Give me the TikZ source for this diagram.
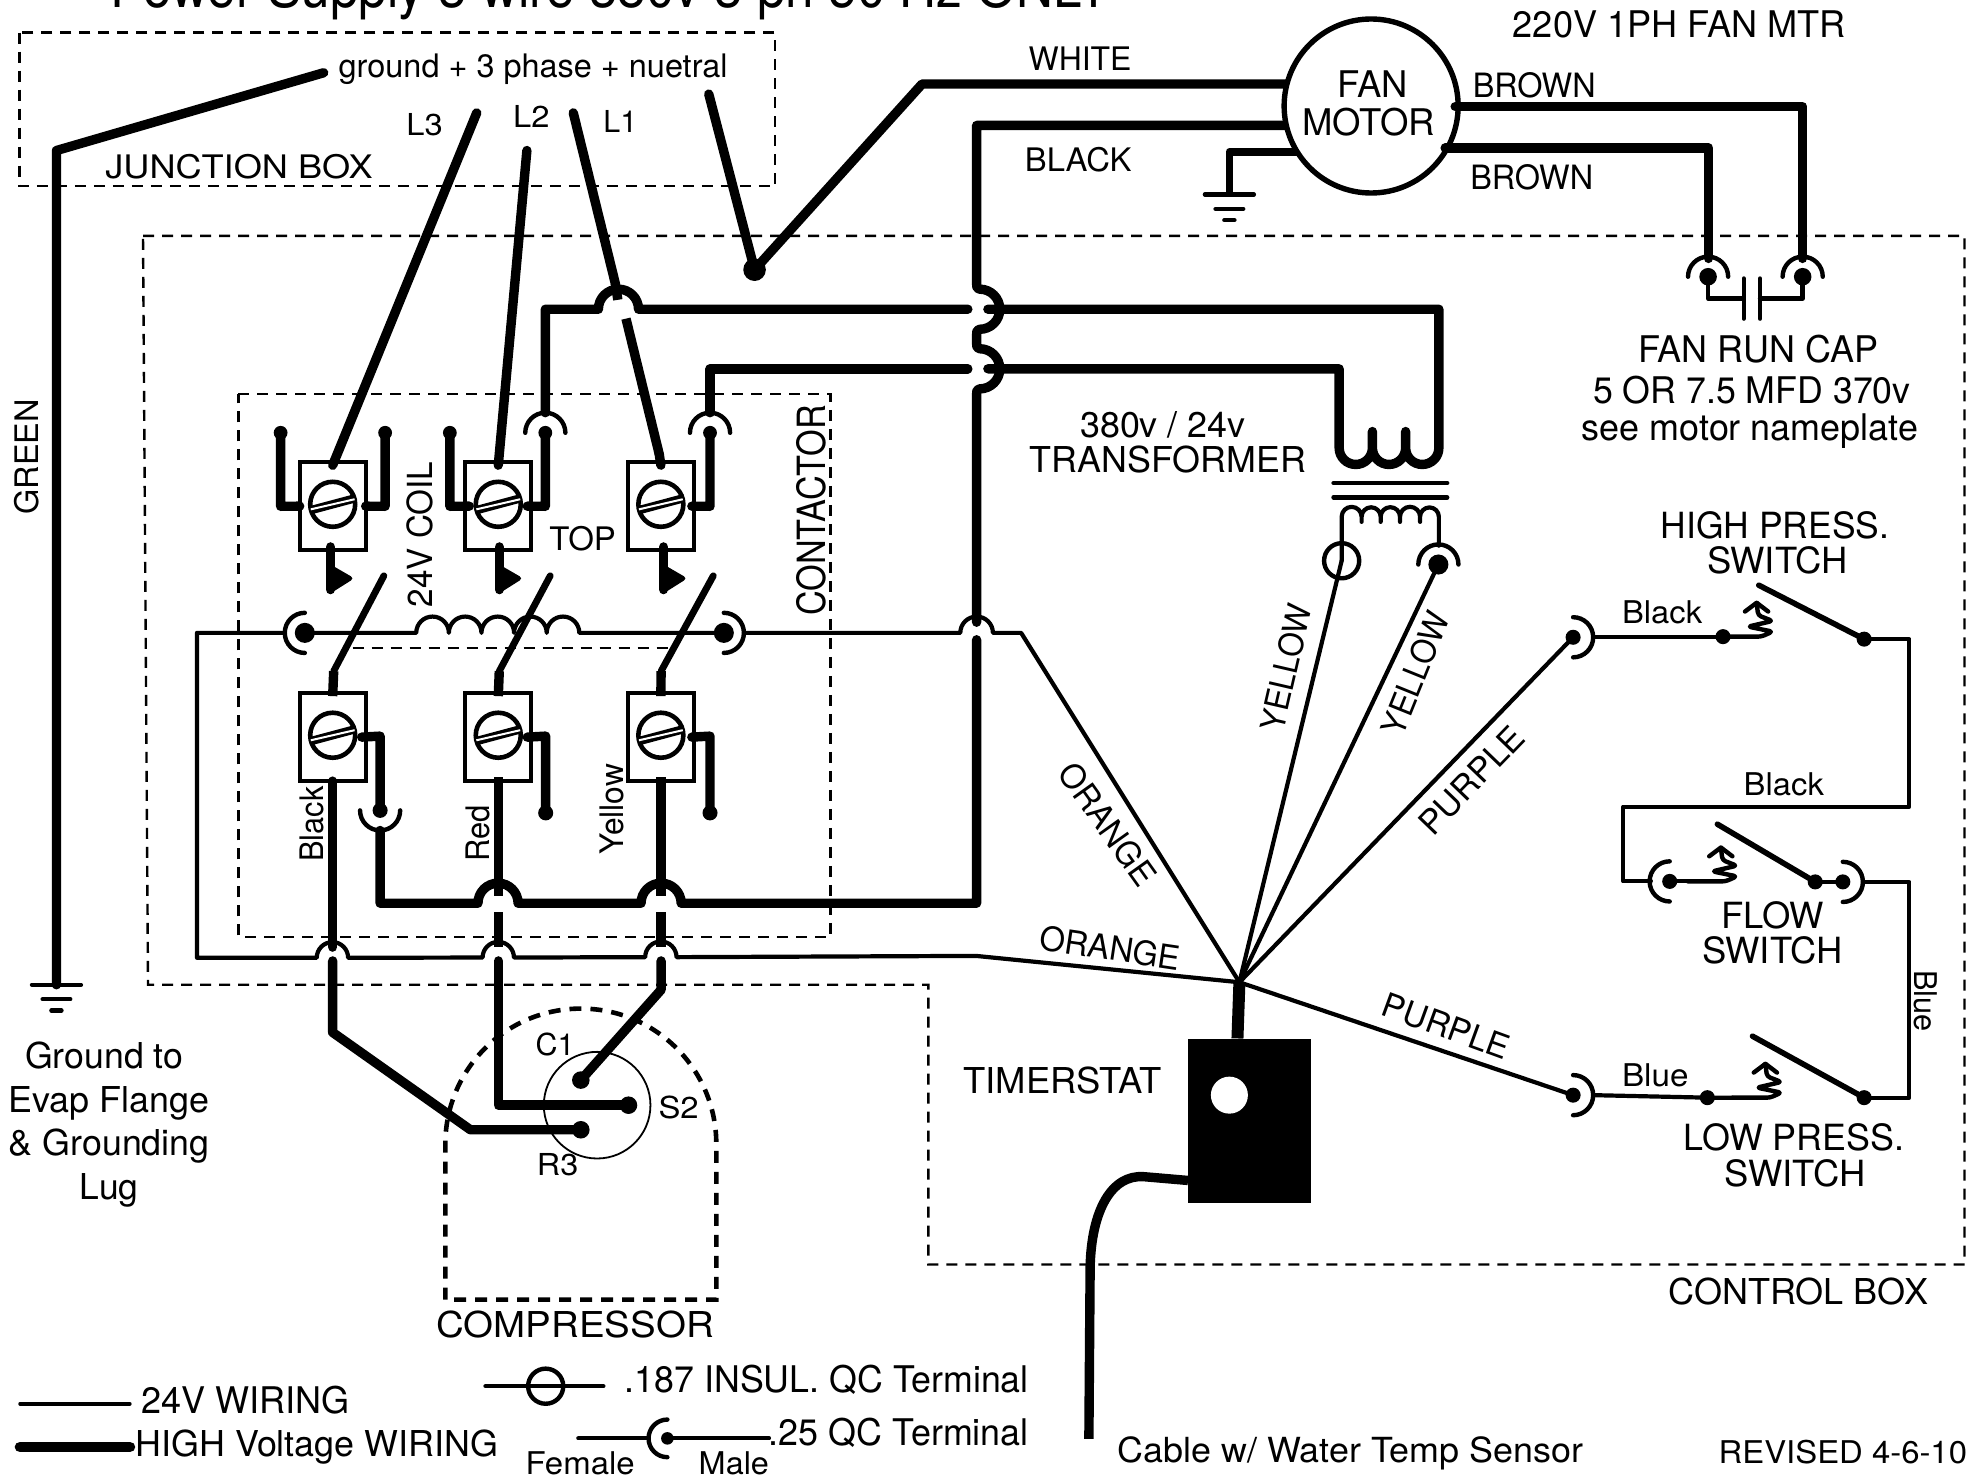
\documentclass[tikz,border=0pt]{standalone}
\usepackage{graphicx}
\usepackage{fontspec}
\setmainfont{TeX Gyre Heros}
\newlength\uu \setlength\uu{0.6272pt}
% text of exact width #1 (in picture units), size #2, slightly raised height
\newcommand\tw[3]{\resizebox{#1\uu}{1.08\height}{\fontsize{#2}{#2}\selectfont #3}}
\tikzset{
  lab/.style={inner sep=0pt,outer sep=0pt,anchor=base west},
  labc/.style={inner sep=0pt,outer sep=0pt,anchor=base},
  lbox/.style={inner sep=0pt,outer sep=0pt,anchor=center},
  thin24/.style={line width=2.1pt,line join=round,line cap=round},
  hv/.style={line width=4.7pt,line join=round,line cap=round},
  blade/.style={line width=3.4pt,line cap=round},
  dashbox/.style={line width=1.2pt,dash pattern=on 5.5pt off 4pt},
  dashcomp/.style={line width=2.3pt,dash pattern=on 6pt off 4.5pt},
  tbox/.style={draw,line width=2.1pt,minimum width=33pt,minimum height=44pt,inner sep=0pt,outer sep=0pt,fill=white},
  screw/.style={draw,circle,line width=2.3pt,minimum size=22.5pt,inner sep=0pt,outer sep=0pt},
  sym/.style={line width=2.2pt,line cap=round,line join=round},
}
% terminal block with screw
\newcommand\tblock[3]{%
  \node[tbox] (#1) at (#2,#3) {};
  \node[screw] (#1s) at (#2,#3-1.5) {};
  \draw[line width=4.2pt] (#1s.195) -- (#1s.15);
  \draw[line width=1pt,white] (#1s.193) -- (#1s.13);
}
% female terminal: dot and half circle; #4 start angle of the half circle
\newcommand\fterm[5]{%
  \coordinate (#1) at (#2,#3);
  \fill (#1) circle[radius=#5];
  \draw[sym] (#1) ++(#4:16) arc[start angle=#4,delta angle=180,radius=16];
}
\newcommand\dotat[4]{\coordinate (#1) at (#2,#3); \fill (#1) circle[radius=#4];}
% pressure element at base point
\newcommand\spring[2]{%
  \begin{scope}[shift={(#1,#2)}]
    \draw[sym,rounded corners=1.6pt] (-30,0) -- (0,0) -- (9,-4) -- (-10.5,-8) -- (9,-12.5) -- (-2.5,-17) -- (-3.7,-27);
    \draw[sym] (-13,-20) -- (-3.7,-27) -- (5.5,-20);
  \end{scope}
}
\newcommand\groundsym[2]{%
  \begin{scope}[shift={(#1,#2)}]
    \draw[sym] (-19.5,0) -- (19.5,0);
    \draw[sym] (-11,11.5) -- (11,11.5);
    \draw[sym] (-4,20.5) -- (4,20.5);
  \end{scope}
}
\begin{document}
\begin{tikzpicture}[x=0.6272pt,y=-0.6272pt]
\useasboundingbox (0,0) rectangle (1568,1177.4);
\clip (0,0) rectangle (1568,1177.4);
\fill[white] (0,0) rectangle (1568,1177.4);

% dashed enclosures
\draw[dashbox] (15.5,26) rectangle (618,148.5);
\draw[dashbox] (114,188) -- (1566,188) -- (1566,1008) -- (740,1008) -- (740,785) -- (118,785) -- cycle;
\draw[dashbox] (190,314) -- (662,314) -- (662,747) -- (190,747) -- cycle;
\draw[dashbox] (281,516.5) -- (533,516.5);

% hub where the timerstat leads meet
\coordinate (hub) at (988,783);

% terminal blocks
\tblock{ta}{265.2}{403.5}
\tblock{tb}{397.2}{403.5}
\tblock{tc}{526.8}{403.5}
\tblock{ba}{265.2}{587.6}
\tblock{bb}{397.2}{587.6}
\tblock{bc}{526.8}{587.6}

% fork stubs, top row
\dotat{f1}{223.7}{345}{5.5}
\dotat{f2}{307}{345}{5.5}
\dotat{f3}{358.6}{345}{5.5}
\fterm{f4}{434.7}{345}{180}{5.5}
\fterm{f5}{566}{345}{180}{5.5}
\draw[hv] (f1) -- (223.7,403.6) -- (ta.west);
\draw[hv] (f2) -- (307,403.6) -- (ta.east);
\draw[hv] (f3) -- (358.6,403.6) -- ([xshift=2pt]tb.west);
\draw[hv] (f4) -- (434.7,403.6) -- ([xshift=-2pt]tb.east);
\draw[hv] (f5) -- (566,403.6) -- ([xshift=-1pt]tc.east);

% power feed
\coordinate (gnd0) at (258,58);
\coordinate (l3) at (380,90);
\coordinate (l2) at (420,120);
\coordinate (l1) at (457,90);
\coordinate (n0) at (565,75);
\dotat{tj}{601.5}{215}{9}
\draw[hv] (gnd0) -- (45,120) -- (45,785);
\groundsym{45}{785}
\draw[hv] (l3) -- ([yshift=-1.5pt]ta.north);
\draw[hv] (l2) -- ([yshift=-1.5pt]tb.north);
\draw[hv] (l1) -- (490.5,226);
\draw[hv,line cap=butt] (490.5,226) -- (492.5,239);
\draw[hv,line cap=butt] (499,254) -- (525.5,362);
\draw[hv] (525.5,362) -- ([yshift=-1.5pt]tc.north);
\draw[hv] (n0) -- (tj) -- (735,67) -- (1025,67);

% contact pads below top row
\foreach \x in {263.5,398,529}{
  \draw[hv] (\x,436) -- (\x,470);
  \fill[rounded corners=2pt] (\x,450) -- (\x+19,461) -- (\x,473) -- cycle;
}
% moving contact blades
\draw[blade] (306,459) -- (266,535);
\draw[blade] (438.6,459) -- (398,535);
\draw[blade] (568.6,459) -- (527,535);
\draw[hv,line cap=butt] (266,535) -- ([yshift=-1.5pt]ba.north);
\draw[hv,line cap=butt] (398,535) -- ([yshift=-1.5pt]bb.north);
\draw[hv,line cap=butt] (527,535) -- ([yshift=-1.5pt]bc.north);

% lower stubs
\fterm{g1}{303}{646}{0}{6}
\dotat{g2}{435}{648}{6}
\dotat{g3}{566}{648}{6}
\draw[hv] ([xshift=-2pt]ba.east) -- (303,586.8) -- (g1);
\draw[hv] ([xshift=-2pt]bb.east) -- (435,586.8) -- (g2);
\draw[hv] ([xshift=-1pt]bc.east) -- (566,586.8) -- (g3);

% high-voltage rail back to the vertical
\draw[hv] (303,662) -- (303,720) -- (381,720) arc[start angle=180,end angle=360,radius=16]
   -- (511,720) arc[start angle=180,end angle=360,radius=16] -- (778.5,720) -- (778.5,510);
\draw[hv] (778.5,496) -- (778.5,315)
   .. controls (778.5,311) and (779,310) .. (781,310) arc[start angle=90,end angle=-90,radius=16]
   .. controls (779,278) and (778.5,277) .. (778.5,273)
   -- (778.5,267.5) .. controls (778.5,263.5) and (779,262.5) .. (781,262.5) arc[start angle=90,end angle=-90,radius=16]
   .. controls (779,230.5) and (778.5,229.5) .. (778.5,225.5)
   -- (778.5,100) -- (1025,100);

% compressor circuit
\draw[hv] (ba.south) -- (265.2,755);
\draw[hv,line cap=butt] ([yshift=2pt]bb.south) -- (397.2,714);
\draw[hv,line cap=butt] ([yshift=2pt]bc.south) -- (526.8,714);
\draw[hv,line cap=butt] (397.2,727) -- (397.2,755);
\draw[hv,line cap=butt] (526.8,727) -- (526.8,755);
\dotat{c1}{463}{861}{7}
\dotat{s2}{501}{881}{7}
\dotat{r3}{463}{900.6}{7}
\draw[hv] (265.2,766) -- (265.2,823) -- (375,900.6) -- (r3);
\draw[hv] (397.2,766) -- (397.2,881) -- (s2);
\draw[hv] (527,766) -- (527,789) -- (c1);
\draw[line width=0.9pt] (476,881) circle[radius=42.5];
\draw[dashcomp] (355,1036) -- (355,912) arc[start angle=180,end angle=360,radius=108] -- (571,1036) -- cycle;

% thick rails to the transformer
\draw[hv] (434.7,329) -- (434.7,246.5) -- (477,246.5) arc[start angle=180,end angle=360,radius=16] -- (771.5,246.5);
\draw[hv] (566,329) -- (566,294) -- (771.5,294);
\draw[hv] (787.5,246.5) -- (1147,246.5) -- (1147,357)
   arc[start angle=0,end angle=180,radius=13.25] -- (1120.5,344) -- (1120.5,357)
   arc[start angle=0,end angle=180,radius=13.25] -- (1094,344) -- (1094,357)
   arc[start angle=0,end angle=180,radius=13.25] -- (1067.5,294) -- (787.5,294);
\draw[sym] (1063,385) -- (1153.6,385);
\draw[sym] (1063,396.5) -- (1153.6,396.5);
% secondary winding
\draw[thin24] (1069.5,447) -- (1069.5,412)
   arc[start angle=180,end angle=360,radius=7.95] -- ++(0,4) -- ++(0,-4)
   arc[start angle=180,end angle=360,radius=7.6] -- ++(0,4) -- ++(0,-4)
   arc[start angle=180,end angle=360,radius=7.7] -- ++(0,4) -- ++(0,-4)
   arc[start angle=180,end angle=360,radius=8] -- ++(0,4) -- ++(0,-4)
   arc[start angle=180,end angle=360,radius=7.5] -- (1147,435);
\coordinate (ins) at (1069.5,447);
\draw[sym] (ins) circle[radius=14];
\fterm{sec2}{1146.6}{450}{180}{8}

% fan motor
\node[draw,circle,line width=2.7pt,minimum size=87pt,inner sep=0pt,fill=white] (fan) at (1093,84.5) {};
\node[lbox] (tfan) at (1094,67) {\tw{56}{17}{FAN}};
\node[lbox] (tmotor) at (1091,97) {\tw{106}{17}{MOTOR}};
\draw[hv] (1160,85) -- (1437,85) -- (1437,206);
\draw[hv] (1152,118) -- (1362,118) -- (1362,206);
\draw[line width=3.8pt,line join=round] (1034,121) -- (980,121) -- (980,155);
\groundsym{980}{155}
\fterm{cap1}{1361.6}{220.6}{180}{7}
\fterm{cap2}{1437}{220.6}{180}{7}
\draw[sym] (cap1) -- (1361.6,238) -- (1390,238);
\draw[sym] (cap2) -- (1437,238) -- (1403,238);
\draw[sym] (1390,222) -- (1390,254);
\draw[sym] (1403,222) -- (1403,254);

% 24 V coil line
\fterm{coilL}{243}{504.5}{90}{8}
\fterm{coilR}{577}{504.5}{270}{8}
\draw[thin24] (coilL) -- (331.8,504.5)
   arc[start angle=180,end angle=360,radius=13] arc[start angle=180,end angle=360,radius=13]
   arc[start angle=180,end angle=360,radius=13] arc[start angle=180,end angle=360,radius=13]
   arc[start angle=180,end angle=360,radius=13]
   -- (coilR);
\draw[thin24] (227,504.5) -- (157,504.5) -- (157,763.5) -- (252.5,763.5)
   arc[start angle=180,end angle=360,radius=12.5] -- (384.7,763.3)
   arc[start angle=180,end angle=360,radius=12.5] -- (514.3,763)
   arc[start angle=180,end angle=360,radius=12.5] -- (778,762) -- (hub);
\draw[thin24] (593,504.5) -- (765.5,504.5) arc[start angle=180,end angle=360,radius=13] -- (814,504.5) -- (hub);

% yellow and purple leads
\draw[thin24] (ins) -- (hub);
\draw[thin24] (sec2) -- (hub);
\fterm{pu}{1254}{508}{270}{6}
\fterm{pl}{1254}{873}{270}{6}
\draw[thin24] (hub) -- (pu);
\draw[thin24] (hub) -- (pl);

% timerstat
\node[fill=black,inner sep=0pt,minimum width=61.5pt,minimum height=82pt] (timer) at (996,893.5) {};
\node[fill=white,circle,inner sep=0pt,minimum size=18.5pt] (timerh) at (980,873) {};
\draw[line width=6pt] (hub) -- ([xshift=-6pt]timer.north);
\coordinate (cab) at (868,1147);
\draw[hv,line cap=butt] (947,941) -- (912,938) .. controls (886,936) and (870,965) .. (869,1010) -- (cab);

% switches
\dotat{hp1}{1373.5}{507.5}{6}
\dotat{hp2}{1486}{509.5}{6}
\spring{1404}{507.5}
\draw[thin24] (1270,507.5) -- (hp1);
\draw[blade,line width=2.8pt] (1402,466.5) -- (hp2);
\draw[thin24] (hp2) -- (1522,509.5) -- (1522,643) -- (1294,643) -- (1294,702.6) -- (1316,702.6);
\fterm{fl}{1331}{702.6}{90}{6}
\dotat{fl2}{1447}{703}{6}
\fterm{fl3}{1469}{703}{270}{6}
\spring{1375.5}{702.6}
\draw[thin24] (fl) -- (1346,702.6);
\draw[blade,line width=2.8pt] (1369,657) -- (fl2);
\draw[thin24] (fl2) -- (fl3);
\draw[thin24] (1485,703) -- (1522,703) -- (1522,875) -- (1486,875);
\dotat{lp1}{1361}{875}{6}
\dotat{lp2}{1486}{875}{6}
\spring{1411}{875}
\draw[thin24] (1270,873) -- (lp1) -- (1381,875);
\draw[blade,line width=2.8pt] (1397,826) -- (lp2);

% legend
\coordinate (lg1a) at (16,1119); \coordinate (lg1b) at (103.5,1119);
\coordinate (lg2a) at (16,1153.5); \coordinate (lg2b) at (103.5,1153.5);
\draw[thin24,line width=1.8pt] (lg1a) -- (lg1b);
\draw[line width=5.4pt,line cap=round] (lg2a) -- (lg2b);
\coordinate (lg3) at (435,1105);
\draw[thin24] (387,1105) -- (481,1105);
\draw[sym] (lg3) circle[radius=14];
\dotat{lg4}{532}{1146.6}{5}
\draw[thin24] (461,1146.6) -- (517,1146.6);
\draw[sym] (lg4) ++(90:15) arc[start angle=90,delta angle=180,radius=15];
\draw[thin24] (lg4) -- (613,1146.6);

% texts
\node[lab] (title) at (88,5.6) {\tw{797}{26.5}{Power Supply 3 wire 380v 3 ph 50 Hz ONLY}};
\node[lab] (t1) at (270,62) {\tw{310}{15}{ground + 3 phase + nuetral}};
\node[lab] (t2) at (324,108) {\tw{29}{14}{L3}};
\node[lab] (t3) at (409,102) {\tw{29}{14}{L2}};
\node[lab] (t4) at (481,106) {\tw{27}{14}{L1}};
\node[lab] (t5) at (84,142) {\tw{213}{15}{JUNCTION BOX}};
\node[lab] (t6) at (820,56) {\tw{82}{15}{WHITE}};
\node[lab] (t7) at (817,136.5) {\tw{85}{15}{BLACK}};
\node[lab] (t8) at (1206,30) {\tw{265}{17}{220V 1PH FAN MTR}};
\node[lab] (t9) at (1174,78) {\tw{98}{15.5}{BROWN}};
\node[lab] (t10) at (1172,151) {\tw{98}{15.5}{BROWN}};
\node[lab] (t11) at (1306,289) {\tw{191}{17}{FAN RUN CAP}};
\node[lab] (t12) at (1270,322) {\tw{253}{17}{5 OR 7.5 MFD 370v}};
\node[lab] (t13) at (1261,351) {\tw{268}{17}{see motor nameplate}};
\node[lab] (t14) at (861,349) {\tw{132}{16.5}{380v / 24v}};
\node[lab] (t15) at (821,377) {\tw{220}{16.5}{TRANSFORMER}};
\node[lab,rotate=90] (t16) at (31,410) {\tw{92}{15}{GREEN}};
\node[lab,rotate=90] (t17) at (345,484) {\tw{116}{16}{24V COIL}};
\node[lab] (t18) at (438,439) {\tw{53}{15}{TOP}};
\node[lab,rotate=90] (t19) at (658,491) {\tw{168}{18}{CONTACTOR}};
\node[lab,rotate=90] (t20) at (258,687) {\tw{60}{15}{Black}};
\node[lab,rotate=90] (t21) at (390,687) {\tw{45}{15}{Red}};
\node[lab,rotate=90] (t22) at (497,681) {\tw{72}{15}{Yellow}};
\node[lbox,rotate=-54.5] (t23) at (883,657) {\tw{113}{15.5}{ORANGE}};
\node[lbox,rotate=-8.5] (t24) at (885,755.5) {\tw{113}{15.5}{ORANGE}};
\node[lbox,rotate=77] (t25) at (1025,532) {\tw{103}{15.5}{YELLOW}};
\node[lbox,rotate=68] (t26) at (1128,537) {\tw{103}{15.5}{YELLOW}};
\node[lbox,rotate=46] (t27) at (1173,622) {\tw{108}{15.5}{PURPLE}};
\node[lbox,rotate=-20] (t28) at (1153,818) {\tw{106}{15.5}{PURPLE}};
\node[lbox,rotate=-90] (t29) at (1535,798) {\tw{49}{14.5}{Blue}};
\node[lab] (t30) at (1293,497) {\tw{64}{14.5}{Black}};
\node[lab] (t31) at (1390,634) {\tw{64}{14.5}{Black}};
\node[lab] (t32) at (1293,866) {\tw{53}{14.5}{Blue}};
\node[lab] (t33) at (1324,429) {\tw{182}{16.7}{HIGH PRESS.}};
\node[lab] (t34) at (1361,457) {\tw{112}{16.7}{SWITCH}};
\node[lab] (t35) at (1372,740) {\tw{82}{16.7}{FLOW}};
\node[lab] (t36) at (1357,768) {\tw{112}{16.7}{SWITCH}};
\node[lab] (t37) at (1342,917) {\tw{176}{16.7}{LOW PRESS.}};
\node[lab] (t38) at (1375,946) {\tw{112}{16.7}{SWITCH}};
\node[lab] (t39) at (768,872) {\tw{158}{16.5}{TIMERSTAT}};
\node[lab] (t40) at (1330,1040) {\tw{207}{16.5}{CONTROL BOX}};
\node[lab] (t41) at (427,841) {\tw{31}{14}{C1}};
\node[lab] (t42) at (525,892) {\tw{32}{14}{S2}};
\node[lab] (t43) at (428,937) {\tw{33}{14}{R3}};
\node[lab] (t44) at (348,1066) {\tw{221}{16.5}{COMPRESSOR}};
\node[labc] (t45) at (83,852) {\tw{126}{16.5}{Ground to}};
\node[labc] (t46) at (87,887) {\tw{160}{16.5}{Evap Flange}};
\node[labc] (t47) at (87,921) {\tw{160}{16.5}{\& Grounding}};
\node[labc] (t48) at (87,956) {\tw{47}{16.5}{Lug}};
\node[lab] (t49) at (113,1127) {\tw{166}{17}{24V WIRING}};
\node[lab] (t50) at (108,1161) {\tw{289}{16.5}{HIGH Voltage WIRING}};
\node[lab] (t51) at (498,1110) {\tw{322}{17}{.187 INSUL. QC Terminal}};
\node[lab] (t52) at (613,1152) {\tw{207}{17}{.25 QC Terminal}};
\node[lab] (t53) at (419,1175) {\tw{87}{14.5}{Female}};
\node[lab] (t54) at (557,1175) {\tw{56}{14.5}{Male}};
\node[lab] (t55) at (891,1166) {\tw{371}{16}{Cable w/ Water Temp Sensor}};
\node[lab] (t56) at (1370,1167) {\tw{198}{14.5}{REVISED 4-6-10}};
\end{tikzpicture}
\end{document}
